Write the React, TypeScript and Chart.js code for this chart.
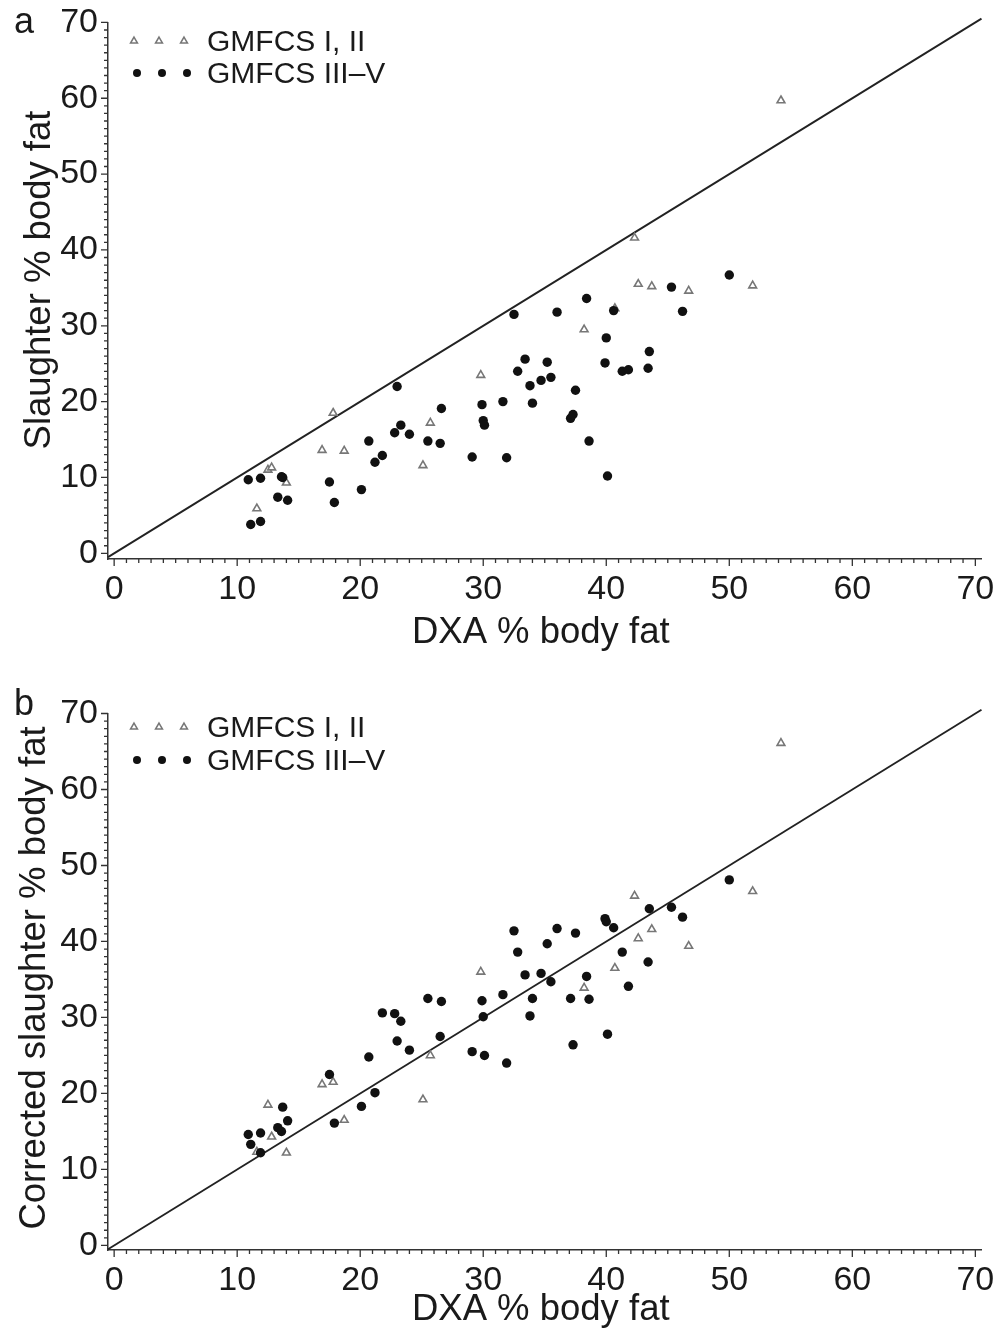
import React, { useEffect, useRef } from "react";
import { Chart, registerables } from "chart.js";

Chart.register(...registerables);

// GMFCS I, II (triangles)
const dxaI = [11.6, 12.5, 12.8, 14.0, 16.9, 17.8, 18.7, 25.1, 25.7, 29.8, 38.2, 40.7, 42.3, 42.6, 43.7, 46.7, 51.9, 54.2];
const slaughterI = [5.9, 11.0, 11.3, 9.3, 13.6, 18.5, 13.5, 11.6, 17.2, 23.5, 29.5, 32.3, 41.6, 35.5, 35.2, 34.6, 35.3, 59.7];
const correctedI = [12.3, 18.5, 14.3, 12.2, 21.2, 21.5, 16.5, 19.2, 25.0, 36.0, 33.9, 36.5, 46.0, 40.4, 41.6, 39.4, 46.6, 66.1];

// GMFCS III–V (filled circles)
const dxaIII = [10.9, 11.1, 11.9, 11.9, 13.3, 13.6, 13.7, 14.1, 17.5, 17.9, 20.1, 20.7, 21.2, 21.8, 22.8, 23.0, 23.3, 24.0, 25.5, 26.5, 26.6, 29.1, 29.9, 30.0, 30.1, 31.6, 31.9, 32.5, 32.8, 33.4, 33.8, 34.0, 34.7, 35.2, 35.5, 36.0, 37.1, 37.3, 37.5, 38.4, 38.6, 39.9, 40.0, 40.1, 40.6, 41.3, 41.8, 43.4, 43.5, 45.3, 46.2, 50.0];
const slaughterIII = [9.7, 3.8, 9.9, 4.2, 7.4, 10.1, 10.0, 7.0, 9.4, 6.7, 8.4, 14.8, 12.0, 12.9, 15.9, 22.0, 16.9, 15.7, 14.8, 14.5, 19.1, 12.7, 19.6, 17.5, 16.9, 20.0, 12.6, 31.5, 24.0, 25.6, 22.1, 19.8, 22.8, 25.2, 23.2, 31.8, 17.8, 18.3, 21.5, 33.6, 14.8, 25.1, 28.4, 10.2, 32.0, 24.0, 24.2, 24.4, 26.6, 35.1, 31.9, 36.7];
const correctedIII = [14.6, 13.3, 14.8, 12.2, 15.5, 15.0, 18.2, 16.4, 22.5, 16.1, 18.3, 24.8, 20.1, 30.6, 30.5, 26.9, 29.5, 25.7, 32.5, 27.5, 32.1, 25.5, 32.2, 30.1, 25.0, 33.0, 24.0, 41.4, 38.6, 35.6, 30.2, 32.5, 35.8, 39.7, 34.7, 41.7, 32.5, 26.4, 41.1, 35.4, 32.4, 43.0, 42.6, 27.8, 41.8, 38.6, 34.1, 37.3, 44.3, 44.5, 43.2, 48.1];

const tickValues = [0, 10, 20, 30, 40, 50, 60, 70];
const identityLine = [-0.5, 70.5];
const legendLabels = ["GMFCS I, II", "GMFCS III\u2013V"];
const xTitle = "DXA % body fat";

const FONT = '"Liberation Sans", Arial, Helvetica, sans-serif';
const W = 1002;

type Panel = {
  top: number;
  height: number;
  letter: string;
  yTitle: string;
  yI: number[];
  yIII: number[];
  yMin: number;
  chartTop: number;
  chartBottom: number;
  legendRows: number[];
  letterBaseline: number;
  yTitleCenter: number;
  yTitleX: number;
  xTitleBaseline: number;
};

const panels: Panel[] = [
  {
    top: 0, height: 665, letter: "a", yTitle: "Slaughter % body fat",
    yI: slaughterI, yIII: slaughterIII, yMin: -0.75,
    chartTop: 20, chartBottom: 559, legendRows: [41, 73], letterBaseline: 33,
    yTitleCenter: 280, yTitleX: 50, xTitleBaseline: 643,
  },
  {
    top: 665, height: 664, letter: "b", yTitle: "Corrected slaughter % body fat",
    yI: correctedI, yIII: correctedIII, yMin: -0.6,
    chartTop: 48.5, chartBottom: 585, legendRows: [62, 95], letterBaseline: 50,
    yTitleCenter: 313, yTitleX: 45, xTitleBaseline: 655,
  },
];

function drawTriangle(ctx: CanvasRenderingContext2D, x: number, y: number, r: number) {
  ctx.beginPath();
  let rad = 0;
  ctx.moveTo(x + Math.sin(rad) * r, y - Math.cos(rad) * r);
  rad += (2 * Math.PI) / 3;
  ctx.lineTo(x + Math.sin(rad) * r, y - Math.cos(rad) * r);
  rad += (2 * Math.PI) / 3;
  ctx.lineTo(x + Math.sin(rad) * r, y - Math.cos(rad) * r);
  ctx.closePath();
}

function PanelChart({ p }: { p: Panel }) {
  const ref = useRef<HTMLCanvasElement | null>(null);
  useEffect(() => {
    if (!ref.current) return;
    const decor = {
      id: "decor",
      afterDraw(chart: any) {
        const { ctx, chartArea } = chart;
        const xs = chart.scales.x;
        const ys = chart.scales.y;
        ctx.save();
        // minor & major ticks
        ctx.strokeStyle = "#333";
        ctx.lineWidth = 1.3;
        ctx.beginPath();
        for (let v = 0; v <= 70; v++) {
          const len = v % 10 === 0 ? 7 : 4;
          const px = xs.getPixelForValue(v);
          ctx.moveTo(px, chartArea.bottom);
          ctx.lineTo(px, chartArea.bottom + len);
          const py = ys.getPixelForValue(v);
          ctx.moveTo(chartArea.left, py);
          ctx.lineTo(chartArea.left - len, py);
        }
        ctx.stroke();

        ctx.fillStyle = "#1a1a1a";
        // panel letter
        ctx.font = `36px ${FONT}`;
        ctx.textAlign = "left";
        ctx.textBaseline = "alphabetic";
        ctx.fillText(p.letter, 14, p.letterBaseline);

        // x title
        ctx.font = `36.5px ${FONT}`;
        ctx.textAlign = "center";
        ctx.fillText(xTitle, (chartArea.left + chartArea.right) / 2 - 4, p.xTitleBaseline);

        // y title
        ctx.save();
        ctx.translate(p.yTitleX, p.yTitleCenter);
        ctx.rotate(-Math.PI / 2);
        ctx.textAlign = "center";
        ctx.fillText(p.yTitle, 0, 0);
        ctx.restore();

        // legend
        const mx = [134, 159, 184];
        const [r1, r2] = p.legendRows;
        ctx.strokeStyle = "#777";
        ctx.lineWidth = 1.5;
        ctx.fillStyle = "#fff";
        for (const x of mx) {
          drawTriangle(ctx, x, r1, 4);
          ctx.fill();
          ctx.stroke();
        }
        ctx.fillStyle = "#111";
        for (const x of mx) {
          ctx.beginPath();
          ctx.arc(x + 3, r2, 4, 0, Math.PI * 2);
          ctx.fill();
        }
        ctx.fillStyle = "#1a1a1a";
        ctx.font = `30px ${FONT}`;
        ctx.textAlign = "left";
        ctx.textBaseline = "middle";
        ctx.fillText(legendLabels[0], 207, r1 + 2);
        ctx.fillText(legendLabels[1], 207, r2 + 2);
        ctx.restore();
      },
    };

    const tickFont = { family: FONT, size: 34 };
    const chart = new Chart(ref.current, {
      type: "scatter",
      data: {
        datasets: [
          {
            label: legendLabels[1],
            data: dxaIII.map((x, i) => ({ x, y: p.yIII[i] })),
            pointStyle: "circle",
            pointRadius: 4.7,
            backgroundColor: "#111",
            borderColor: "#111",
            borderWidth: 0,
          },
          {
            label: legendLabels[0],
            data: dxaI.map((x, i) => ({ x, y: p.yI[i] })),
            pointStyle: "triangle",
            pointRadius: 4.5,
            backgroundColor: "#fff",
            borderColor: "#777",
            borderWidth: 1.6,
          },
          {
            label: "identity",
            data: identityLine.map((v) => ({ x: v, y: v })),
            showLine: true,
            pointRadius: 0,
            borderColor: "#222",
            borderWidth: 1.9,
            clip: false as any,
          },
        ],
      },
      options: {
        animation: false,
        responsive: false,
        events: [],
        layout: { padding: { top: p.chartTop, right: W - 981.5, left: 0, bottom: 0 } },
        plugins: { legend: { display: false }, tooltip: { enabled: false } },
        scales: {
          x: {
            type: "linear",
            min: -0.5,
            max: 70.5,
            afterBuildTicks: (s: any) => {
              s.ticks = tickValues.map((v) => ({ value: v }));
            },
            afterFit: (s: any) => {
              s.height = p.height - p.chartBottom;
            },
            ticks: { font: tickFont, color: "#1a1a1a", padding: 2, maxRotation: 0, autoSkip: false },
            grid: { drawOnChartArea: false, tickLength: 8, tickColor: "rgba(0,0,0,0)" },
            border: { color: "#333", width: 1.5 },
          },
          y: {
            type: "linear",
            min: p.yMin,
            max: 70,
            afterBuildTicks: (s: any) => {
              s.ticks = tickValues.map((v) => ({ value: v }));
            },
            afterFit: (s: any) => {
              s.width = 108;
            },
            ticks: { font: tickFont, color: "#1a1a1a", padding: 2, autoSkip: false },
            grid: { drawOnChartArea: false, tickLength: 8, tickColor: "rgba(0,0,0,0)" },
            border: { color: "#333", width: 1.5 },
          },
        },
      },
      plugins: [decor],
    } as any);
    return () => chart.destroy();
  }, [p]);
  return (
    <canvas
      ref={ref}
      width={W}
      height={p.height}
      style={{ position: "absolute", left: 0, top: p.top, width: W, height: p.height }}
    />
  );
}

export default function App() {
  return (
    <div style={{ position: "absolute", left: 0, top: 0, width: W, height: 1329, background: "#fff" }}>
      {panels.map((p) => (
        <PanelChart key={p.letter} p={p} />
      ))}
    </div>
  );
}
